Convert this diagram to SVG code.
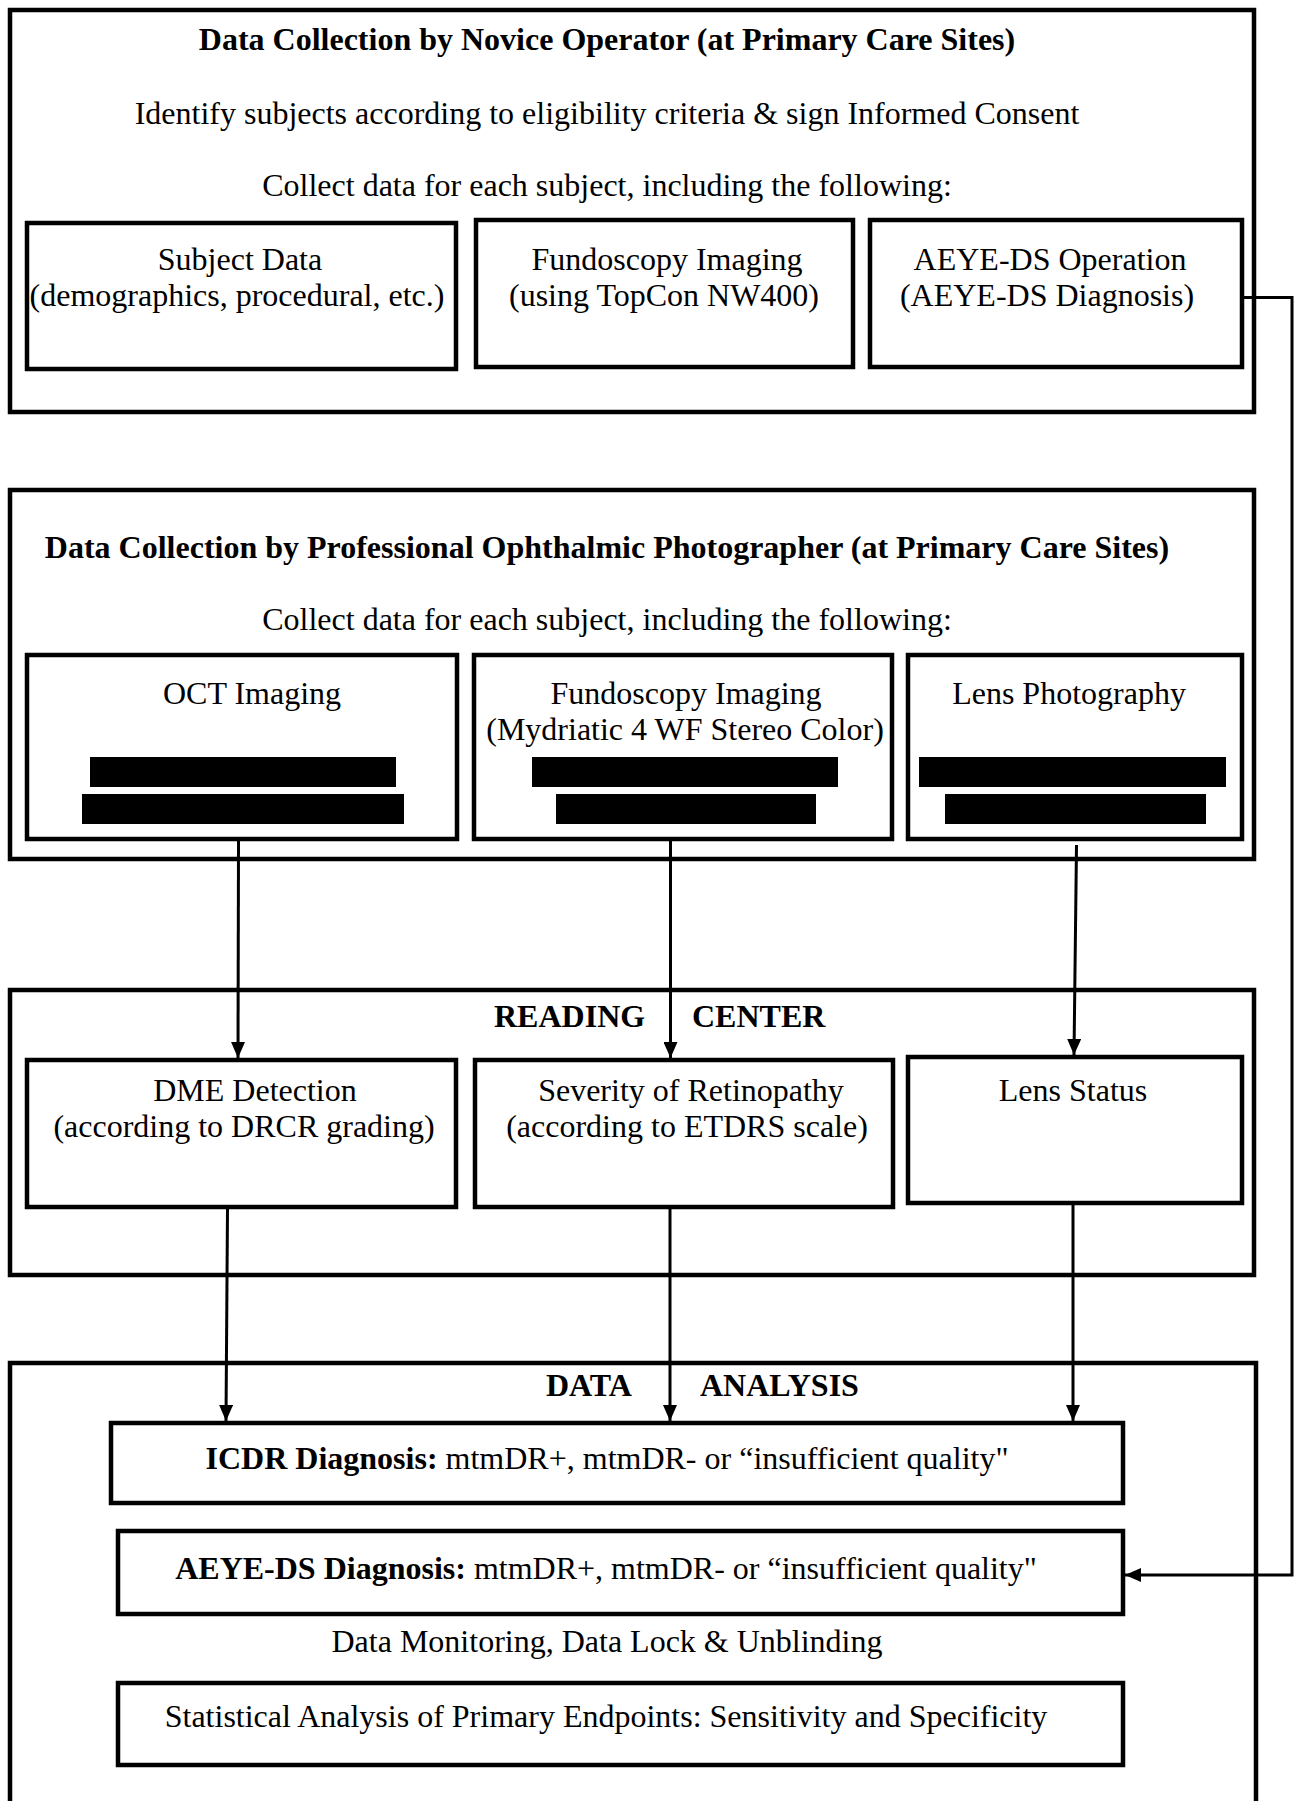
<svg xmlns="http://www.w3.org/2000/svg" width="1298" height="1801" viewBox="0 0 1298 1801">
<style>
.box{fill:none;stroke:#000;stroke-width:4.5;stroke-linejoin:miter}
.sub{fill:#fff;stroke:#000;stroke-width:4.5}
.t{font-family:"Liberation Serif","Times New Roman",serif;font-size:32px;fill:#000}
.c{text-anchor:middle}
.b{font-weight:bold}
.bar{fill:#000}
.conn{fill:none;stroke:#000;stroke-width:3}
</style>
<defs>
<marker id="ah" markerUnits="userSpaceOnUse" markerWidth="16" markerHeight="14" refX="16" refY="7" orient="auto">
<path d="M0,0 L16,7 L0,14 z" fill="#000"/>
</marker>
</defs>
<rect width="1298" height="1801" fill="#fff"/>

<g id="novice">
<rect class="box" x="10" y="10" width="1244" height="402"/>
<text class="t c b" x="607" y="50">Data Collection by Novice Operator (at Primary Care Sites)</text>
<text class="t c" x="607" y="124">Identify subjects according to eligibility criteria &amp; sign Informed Consent</text>
<text class="t c" x="607" y="196">Collect data for each subject, including the following:</text>
</g>
<g id="subject-data">
<rect class="sub" x="27" y="223" width="429" height="146"/>
<text class="t c" x="240" y="270">Subject Data</text>
<text class="t c" x="237" y="306">(demographics, procedural, etc.)</text>
</g>
<g id="fundoscopy-1">
<rect class="sub" x="476" y="220" width="377" height="147"/>
<text class="t c" x="667" y="270">Fundoscopy Imaging</text>
<text class="t c" x="664" y="306">(using TopCon NW400)</text>
</g>
<g id="aeye-op">
<rect class="sub" x="870" y="220" width="372" height="147"/>
<text class="t c" x="1050" y="270">AEYE-DS Operation</text>
<text class="t c" x="1047" y="306">(AEYE-DS Diagnosis)</text>
</g>

<g id="professional">
<rect class="box" x="10" y="490" width="1244" height="369"/>
<text class="t c b" x="607" y="558">Data Collection by Professional Ophthalmic Photographer (at Primary Care Sites)</text>
<text class="t c" x="607" y="630">Collect data for each subject, including the following:</text>
</g>
<g id="oct">
<rect class="sub" x="27" y="655" width="430" height="184"/>
<text class="t c" x="252" y="704">OCT Imaging</text>
<rect class="bar" x="90" y="757" width="306" height="30"/>
<rect class="bar" x="82" y="794" width="322" height="30"/>
</g>
<g id="fundoscopy-2">
<rect class="sub" x="474" y="655" width="418" height="184"/>
<text class="t c" x="686" y="704">Fundoscopy Imaging</text>
<text class="t c" x="685" y="740">(Mydriatic 4 WF Stereo Color)</text>
<rect class="bar" x="532" y="757" width="306" height="30"/>
<rect class="bar" x="556" y="794" width="260" height="30"/>
</g>
<g id="lens-photo">
<rect class="sub" x="908" y="655" width="334" height="184"/>
<text class="t c" x="1069" y="704">Lens Photography</text>
<rect class="bar" x="919" y="757" width="307" height="30"/>
<rect class="bar" x="945" y="794" width="261" height="30"/>
</g>

<g id="reading-center">
<rect class="box" x="10" y="990" width="1244" height="285"/>
<text class="t b" x="494" y="1027">READING</text>
<text class="t b" x="692" y="1027">CENTER</text>
</g>
<g id="dme">
<rect class="sub" x="27" y="1060" width="429" height="147"/>
<text class="t c" x="255" y="1101">DME Detection</text>
<text class="t c" x="244" y="1137">(according to DRCR grading)</text>
</g>
<g id="severity">
<rect class="sub" x="475" y="1060" width="418" height="147"/>
<text class="t c" x="691" y="1101">Severity of Retinopathy</text>
<text class="t c" x="687" y="1137">(according to ETDRS scale)</text>
</g>
<g id="lens-status">
<rect class="sub" x="908" y="1057" width="334" height="146"/>
<text class="t c" x="1073" y="1101">Lens Status</text>
</g>

<g id="data-analysis">
<rect class="box" x="10" y="1363" width="1246" height="480"/>
<text class="t b" x="546" y="1396">DATA</text>
<text class="t b" x="700" y="1396">ANALYSIS</text>
<text class="t c" x="607" y="1652">Data Monitoring, Data Lock &amp; Unblinding</text>
</g>
<g id="icdr">
<rect class="sub" x="111" y="1423" width="1012" height="80"/>
<text class="t c" x="607" y="1469"><tspan class="b">ICDR Diagnosis:</tspan> mtmDR+, mtmDR- or “insufficient quality"</text>
</g>
<g id="aeye-diag">
<rect class="sub" x="118" y="1531" width="1005" height="83"/>
<text class="t c" x="606" y="1579"><tspan class="b">AEYE-DS Diagnosis:</tspan> mtmDR+, mtmDR- or “insufficient quality"</text>
</g>
<g id="stats">
<rect class="sub" x="118" y="1683" width="1005" height="82"/>
<text class="t c" x="606" y="1727">Statistical Analysis of Primary Endpoints: Sensitivity and Specificity</text>
</g>

<g id="connectors">
<line class="conn" x1="238.5" y1="841" x2="238" y2="1058" marker-end="url(#ah)"/>
<line class="conn" x1="670.5" y1="841" x2="670.5" y2="1058" marker-end="url(#ah)"/>
<line class="conn" x1="1076.5" y1="845" x2="1074" y2="1055" marker-end="url(#ah)"/>
<line class="conn" x1="227.5" y1="1209" x2="226" y2="1421" marker-end="url(#ah)"/>
<line class="conn" x1="670" y1="1209" x2="670" y2="1421" marker-end="url(#ah)"/>
<line class="conn" x1="1073" y1="1205" x2="1073" y2="1421" marker-end="url(#ah)"/>
<polyline class="conn" points="1244,297.5 1292,297.5 1292,1575 1125,1575" marker-end="url(#ah)"/>
</g>
</svg>
